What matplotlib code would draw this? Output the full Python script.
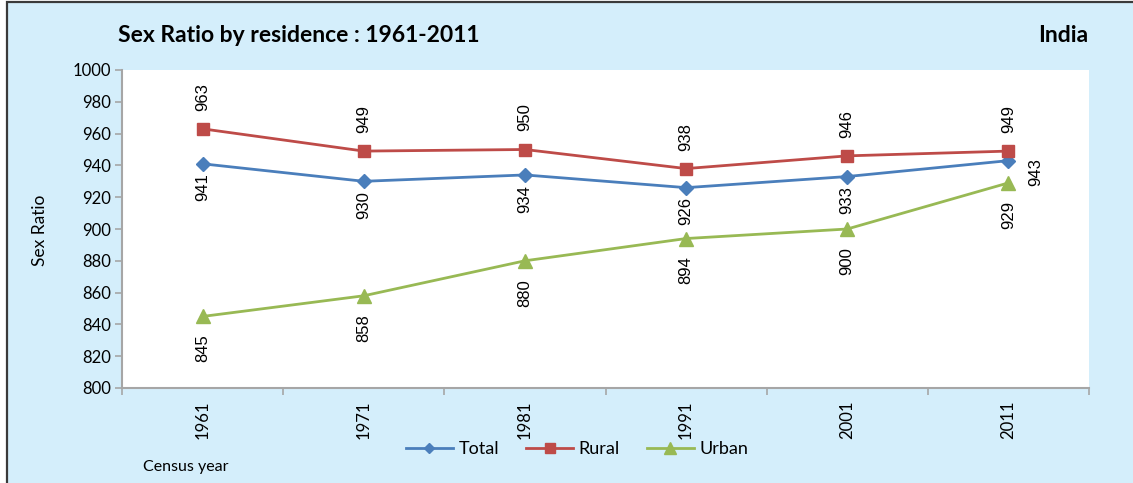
import matplotlib.pyplot as plt
from matplotlib.patches import Rectangle
import numpy as np

# data
years = ['1961', '1971', '1981', '1991', '2001', '2011']
total = [941, 930, 934, 926, 933, 943]
rural = [963, 949, 950, 938, 946, 949]
urban = [845, 858, 880, 894, 900, 929]

y_ticks = list(range(800, 1001, 20))

BG = '#D4EEFB'
C_TOTAL = '#4A7EBB'
C_RURAL = '#BE4B48'
C_URBAN = '#98B954'
AXIS_GRAY = '#A6A6A6'
CAL = ['Lato', 'DejaVu Sans']
NUM = ['Liberation Sans', 'DejaVu Sans']

fig = plt.figure(figsize=(11.33, 4.83), dpi=100, facecolor='white')

# light blue chart area with dark frame (cropped on right/bottom)
fig.patches.append(Rectangle((7 / 1133, -0.05), 1.1, 1 - 2 / 483 + 0.05,
                             transform=fig.transFigure, facecolor=BG,
                             edgecolor='#3A3A3A', linewidth=1.6, zorder=-10))

ax = fig.add_axes([122 / 1133, 1 - 388 / 483, (1089 - 122) / 1133, (388 - 70) / 483])
ax.set_facecolor('white')

x = np.arange(len(years))
ax.plot(x, total, color=C_TOTAL, lw=2, marker='D', ms=7, label='Total', zorder=3)
ax.plot(x, rural, color=C_RURAL, lw=2, marker='s', ms=9, label='Rural', zorder=3)
ax.plot(x, urban, color=C_URBAN, lw=2, marker='^', ms=10, label='Urban', zorder=3)

ax.set_xlim(-0.5, len(years) - 0.5)
ax.set_ylim(800, 1000)
ax.set_yticks(y_ticks)
ax.set_yticklabels([str(v) for v in y_ticks], fontsize=12, family=CAL)

ax.set_xticks(x)
ax.set_xticklabels(years, rotation=90, fontsize=12, family=CAL)
ax.set_xticks(np.arange(-0.5, len(years)), minor=True)
ax.tick_params(axis='x', which='major', length=0, pad=9)
ax.tick_params(axis='x', which='minor', length=5, color=AXIS_GRAY, width=1.2)
ax.tick_params(axis='y', length=5, color=AXIS_GRAY, width=1.2, pad=3)

for s in ['top', 'right']:
    ax.spines[s].set_visible(False)
for s in ['left', 'bottom']:
    ax.spines[s].set_color(AXIS_GRAY)
    ax.spines[s].set_linewidth(1.5)

# data labels (rotated, as in the original)
lab_kw = dict(textcoords='offset points', rotation=90, fontsize=12,
              family=NUM, ha='center')
for i, v in enumerate(rural):
    ax.annotate(str(v), (i, v), xytext=(0, 13), va='bottom', **lab_kw)
for i, v in enumerate(total):
    if i == len(total) - 1:
        ax.annotate(str(v), (i, v), xytext=(20, -8), va='center', **lab_kw)
    else:
        ax.annotate(str(v), (i, v), xytext=(0, -7), va='top', **lab_kw)
for i, v in enumerate(urban):
    ax.annotate(str(v), (i, v), xytext=(0, -13), va='top', **lab_kw)

fig.text(118 / 1133, 1 - 35 / 483, 'Sex Ratio by residence : 1961-2011',
         fontsize=16.5, fontweight='bold', family=CAL, ha='left', va='center')
fig.text(1088 / 1133, 1 - 35 / 483, 'India',
         fontsize=16.5, fontweight='bold', family=CAL, ha='right', va='center')
fig.text(40 / 1133, 1 - 230 / 483, 'Sex Ratio', rotation=90,
         fontsize=12.5, family=CAL, ha='center', va='center')
fig.text(143 / 1133, 1 - 467 / 483, 'Census year',
         fontsize=11.5, family=CAL, ha='left', va='center')

leg = fig.legend(loc='center', bbox_to_anchor=(577 / 1133, 1 - 449 / 483),
                 ncol=3, frameon=False, prop={'family': CAL, 'size': 13},
                 handlelength=2.6, columnspacing=1.5, handletextpad=0.3,
                 markerscale=0.8)

fig.savefig('out.png', dpi=100, facecolor=fig.get_facecolor())
